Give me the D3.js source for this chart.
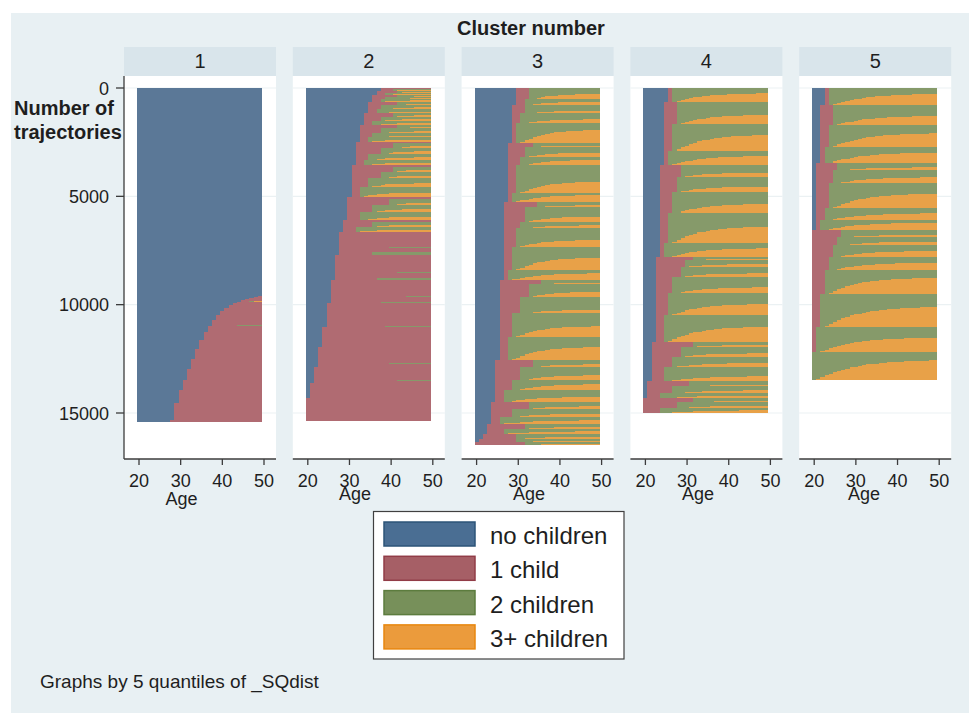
<!DOCTYPE html>
<html><head><meta charset="utf-8">
<script src="https://cdn.jsdelivr.net/npm/d3@7/dist/d3.min.js"></script>
<style>body{margin:0;background:#fff}svg{display:block;font-family:"Liberation Sans",Arial,Helvetica,sans-serif}</style>
</head><body><svg id="c" width="970" height="713"></svg>
<script>
// ---------------- DATA ----------------
const states = ["no children", "1 child", "2 children", "3+ children"];
const clusters = ["1", "2", "3", "4", "5"];
const ageTicks = [20, 30, 40, 50];
const countTicks = [0, 5000, 10000, 15000];
// groups of trajectories, top to bottom: [age at 1st birth, age at 2nd birth, number, number with a 3rd birth]
// (50 = no such birth before age 50)
const cluster1 = [
  [50,50,9600,0],[49,50,40,0],[48,50,45,0],[47,50,40,0],[47,49,10,0],[46,50,45,0],[46,48,10,0],[45,50,50,0],[45,47,15,5],
  [44,50,60,0],[44,47,15,5],[43,50,70,0],[43,46,15,5],
  [42,50,125,0],[42,46,15,5],[41,50,150,0],[41,45,10,0],[40,50,170,0],[40,44,10,5],[39,50,200,0],[39,45,10,0],
  [38,50,250,0],[38,44,10,0],[37,50,300,0],[37,46,10,0],[36,50,350,0],
  [35,50,430,0],[34,50,460,0],[33,50,470,0],[32,50,490,0],[31,50,460,0],[30,50,600,0],[29,50,780,0],[28,50,100,0]
];
const cluster2 = [
  [38,50,45,0],[38,41,75,35],[37,42,90,40],[37,39,110,50],[36,42,110,45],[36,39,90,45],[36,38,110,55],
  [35,42,155,65],[35,38,200,90],[35,37,185,85],[34,41,155,65],[34,38,185,80],[34,36,200,90],
  [33,42,155,65],[33,38,230,100],[33,36,185,80],[33,35,200,90],
  [32,50,75,0],[32,41,230,100],[32,38,260,115],[32,35,275,120],[32,34,230,100],
  [31,50,110,0],[31,41,200,85],[31,38,310,130],[31,35,385,160],[31,33,460,190],
  [30,50,125,0],[30,40,260,110],[30,36,310,130],[30,33,385,150],
  [29,50,75,0],[29,36,230,90],[29,32,230,90],
  [28,50,700,0],[28,40,40,0],[28,50,200,0],[28,36,135,20],[27,50,800,0],[27,42,30,0],[27,50,225,0],[27,37,100,10],
  [26,50,750,0],[26,44,30,0],[26,50,215,0],[26,38,80,0],[25,50,850,0],[25,41,30,0],[25,50,155,0],[25,39,40,0],
  [24,50,700,0],[24,43,30,0],[24,50,195,0],[23,50,760,0],[23,40,25,0],[23,50,140,0],
  [22,50,620,0],[22,42,25,0],[22,50,125,0],[21,50,690,0],[20,50,1030,0]
];
const cluster3 = [
  [30,33,525,245],[30,32,260,155],[29,32,385,125],[29,31,460,185],[29,30,925,615],
  [28,34,155,45],[28,32,460,185],[28,31,385,230],[28,30,1310,540],[28,29,385,310],
  [27,35,230,60],[27,32,690,230],[27,31,310,140],[27,30,845,310],[27,29,1080,570],[27,28,460,310],
  [26,36,185,60],[26,33,585,215],[26,31,770,155],[26,29,1080,490],[26,28,1080,615],
  [25,34,310,125],[25,31,615,230],[25,29,460,275],[25,27,540,230],
  [24,33,310,110],[24,29,385,155],[24,26,310,155],[23,32,230,75],[23,27,230,110],
  [22,30,230,75],[21,30,155,60],[20,32,155,75]
];
const cluster4 = [
  [26,27,630,380],[25,28,1030,415],[25,27,1230,720],[25,26,660,415],
  [24,29,540,185],[24,28,690,230],[24,27,1000,430],[24,26,1385,770],[24,25,645,415],
  [23,32,125,60],[23,30,310,125],[23,29,460,155],[23,27,770,275],[23,26,1000,510],[23,25,1230,690],
  [22,32,230,75],[22,29,460,155],[22,27,460,155],[22,25,690,230],
  [21,31,230,75],[21,27,310,125],[21,24,230,110],[20,32,200,90],[20,28,260,110],[20,24,230,125]
];
const cluster5 = [
  [23,24,785,510],[22,25,925,415],[22,24,1000,615],[22,23,770,490],
  [21,26,310,125],[21,25,615,275],[21,24,1155,690],[21,23,540,310],[21,22,460,340],
  [20,27,310,90],[20,26,385,155],[20,25,540,275],[20,24,615,340],[20,23,1080,740],[20,22,1540,925],
  [20,21,1155,660],[20,20,1310,925]
];
// timing of 3rd births inside a group: [share of group's 3rd births (from earliest), share of the way from 2nd birth to age 49]
const fanShape = [[0,0],[0.1,0.03],[0.25,0.09],[0.45,0.18],[0.65,0.3],[0.8,0.45],[0.9,0.62],[0.97,0.85],[1,1]];
const clusterData = [cluster1, cluster2, cluster3, cluster4, cluster5];

// ---------------- STYLE / LAYOUT ----------------
const plotFill = ["#5b7897", "#b06b72", "#869a6a", "#e8a148"];
const legFill = ["#4a6e93", "#a65f66", "#77905a", "#eb9b3c"];
const legStroke = ["#2c5478", "#913c47", "#5c7c3e", "#e8870f"];
const bg = "#e8f0f3", stripBg = "#d9e5eb", axisCol = "#3c3c3c", txt = "#1e1e1e";
const panelStep = 168.8, plotTop = 76, plotBottom = 459;
const ageLabelPos = [[181.5,505],[355,500],[529,500],[698,500],[864,500]];

const svg = d3.select("#c");
svg.append("rect").attr("x",11).attr("y",13).attr("width",958).attr("height",700).attr("fill",bg);

svg.append("text").attr("x",531).attr("y",35).attr("text-anchor","middle")
  .attr("font-size",20).attr("font-weight","bold").attr("fill",txt).text("Cluster number");

const y = d3.scaleLinear().domain([0,15000]).range([88,413]);
const fanT = d3.scaleLinear().domain(fanShape.map(d=>d[0])).range(fanShape.map(d=>d[1])).clamp(true);

clusters.forEach((cl,i)=>{
  const x = d3.scaleLinear().domain([20,50]).range([139+i*panelStep, 264+i*panelStep]);
  const left = x(20)-15, right = x(50)+12;
  const g = svg.append("g");
  g.append("rect").attr("x",left).attr("y",47).attr("width",right-left).attr("height",29).attr("fill",stripBg);
  g.append("text").attr("x",(left+right)/2).attr("y",68).attr("text-anchor","middle")
    .attr("font-size",20).attr("fill",txt).text(cl);
  g.append("rect").attr("x",left).attr("y",plotTop).attr("width",right-left).attr("height",plotBottom-plotTop).attr("fill","#fff");
  countTicks.forEach(t=>g.append("line").attr("x1",left).attr("x2",right).attr("y1",y(t)).attr("y2",y(t))
    .attr("stroke","#ebf1f3").attr("stroke-width",1.2));

  const bars = g.append("g").attr("shape-rendering","crispEdges");
  const rect = (a,b,y0,y1,c)=>{ if(b-a<=0||y1-y0<=0) return;
    bars.append("rect").attr("x",a).attr("y",y0).attr("width",b-a).attr("height",y1-y0).attr("fill",c); };
  let row = 0;
  clusterData[i].forEach(([a1,a2,n,n3])=>{
    const y0 = y(row), y1 = y(row+n);
    rect(x(19.5), x(49.5), y0, y1, plotFill[0]);
    if(a1<50) rect(x(Math.max(a1,20)-0.5), x(49.5), y0, y1, plotFill[1]);
    if(a2<50) rect(x(Math.max(a2,20)-0.5), x(49.5), y0, y1, plotFill[2]);
    if(n3>0){
      const yo = y(row+n-n3), h = y1-yo, k = Math.max(1, Math.ceil(h*3));
      let cur=null, cy1=y1;
      for(let j=0;j<k;j++){
        const p=(j+0.5)/k;
        const a3 = Math.min(49, a2+1+Math.round(fanT(p)*(48-a2)));
        const sy1 = y1 - j/k*h, sy0 = y1-(j+1)/k*h;
        if(cur===null){cur=a3; cy1=sy1;}
        else if(a3!==cur){ rect(x(cur-0.5), x(49.5), sy1, cy1, plotFill[3]); cur=a3; cy1=sy1; }
        if(j===k-1) rect(x(cur-0.5), x(49.5), sy0, cy1, plotFill[3]);
      }
    }
    row += n;
  });

  // x axis
  g.append("line").attr("x1",left).attr("x2",right).attr("y1",plotBottom).attr("y2",plotBottom).attr("stroke",axisCol).attr("stroke-width",1.3);
  ageTicks.forEach(t=>{
    g.append("line").attr("x1",x(t)).attr("x2",x(t)).attr("y1",plotBottom).attr("y2",plotBottom+6).attr("stroke",axisCol).attr("stroke-width",1.3);
    g.append("text").attr("x",x(t)).attr("y",487).attr("text-anchor","middle").attr("font-size",18).attr("fill",txt).text(t);
  });
  g.append("text").attr("x",ageLabelPos[i][0]).attr("y",ageLabelPos[i][1]).attr("text-anchor","middle").attr("font-size",18).attr("fill",txt).text("Age");

  if(i===0){
    g.append("line").attr("x1",left).attr("x2",left).attr("y1",plotTop).attr("y2",plotBottom).attr("stroke",axisCol).attr("stroke-width",1.3);
    countTicks.forEach(t=>{
      g.append("line").attr("x1",left-8).attr("x2",left).attr("y1",y(t)).attr("y2",y(t)).attr("stroke",axisCol).attr("stroke-width",1.3);
      g.append("text").attr("x",left-15).attr("y",y(t)+6.5).attr("text-anchor","end").attr("font-size",18).attr("fill",txt).text(t);
    });
  }
});

const yt = svg.append("text").attr("x",14).attr("font-size",20).attr("font-weight","bold").attr("fill",txt);
yt.append("tspan").attr("x",14).attr("y",115).text("Number of");
yt.append("tspan").attr("x",14).attr("y",139).text("trajectories");

// legend
const leg = svg.append("g");
leg.append("rect").attr("x",373.5).attr("y",511.5).attr("width",250.5).attr("height",147.5).attr("fill","#fff").attr("stroke","#404040").attr("stroke-width",1.2);
states.forEach((s,k)=>{
  const yy = 522 + k*34.3;
  leg.append("rect").attr("x",384).attr("y",yy).attr("width",91).attr("height",24).attr("fill",legFill[k]).attr("stroke",legStroke[k]).attr("stroke-width",1.5);
  leg.append("text").attr("x",490).attr("y",yy+22).attr("font-size",24).attr("fill",txt).text(s);
});

svg.append("text").attr("x",40).attr("y",688).attr("font-size",19).attr("fill",txt).text("Graphs by 5 quantiles of _SQdist");
</script></body></html>
